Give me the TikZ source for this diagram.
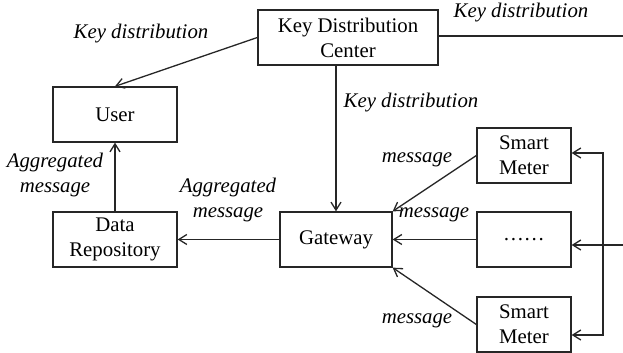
\documentclass[tikz,border=0pt]{standalone}
\usepackage{fontspec}
\setmainfont{Liberation Serif}
\usetikzlibrary{arrows.meta,positioning,calc}
\begin{document}
\begin{tikzpicture}[x=0.5pt,y=-0.5pt,>={Straight Barb[length=4pt,width=5pt]},line width=0.65pt,
  font=\fontsize{10.4}{12.5}\selectfont,
  box/.style={draw,black!85,text=black,align=center,minimum height=27.5pt,inner sep=1pt},
  lbl/.style={font=\fontsize{10.4}{12.5}\selectfont\itshape,align=center,inner sep=0pt}]
\useasboundingbox (0,0) rectangle (623,353);
\node[box,minimum width=90pt] (kdc) at (348,37.5) {Key Distribution\\Center};
\node[box,minimum width=62pt] (user) at (115,114.5) {User};
\node[box,minimum width=62pt] (repo) at (115,239.5) {Data\\Repository};
\node[box,minimum width=56pt] (gw) at (336,239.5) {Gateway};
\node[box,minimum width=47pt] (sm1) at (524,155.5) {Smart\\Meter};
\node[box,minimum width=47pt] (dots) at (524,239.5) {\dots\dots};
\node[box,minimum width=47pt] (sm2) at (524,324.5) {Smart\\Meter};
\coordinate (kout) at (623,36);
\coordinate (kin) at (623,245);
\coordinate (btop) at (603,153);
\coordinate (bbot) at (603,335);
\node[lbl] (l1) at (141,34) {Key distribution};
\node[lbl] (l2) at (521,13) {Key distribution};
\node[lbl] (l3) at (411,103) {Key distribution};
\node[lbl] (l4) at (55,175) {Aggregated\\message};
\node[lbl] (l5) at (228,200) {Aggregated\\message};
\node[lbl] (l6) at (417,160) {message};
\node[lbl] (l7) at (434,215) {message};
\node[lbl] (l8) at (417,321) {message};
\begin{scope}[black!85]
\draw[->] (kdc.west) -- (user.north);
\draw[->] (gw.north |- kdc.south) -- (gw.north);
\draw (kdc.east |- kout) -- (kout);
\draw[->] (repo.north) -- (user.south);
\draw[->] (gw.west) -- (repo.east);
\draw[->] (sm1.west) -- (gw.north east);
\draw[->] (dots.west) -- (gw.east);
\draw[->] (sm2.west) -- (gw.south east);
\draw[->] (kin) -- (kin -| dots.east);
\draw[<->] (btop -| sm1.east) -- (btop) -- (bbot) -- (bbot -| sm2.east);
\end{scope}
\end{tikzpicture}
\end{document}
